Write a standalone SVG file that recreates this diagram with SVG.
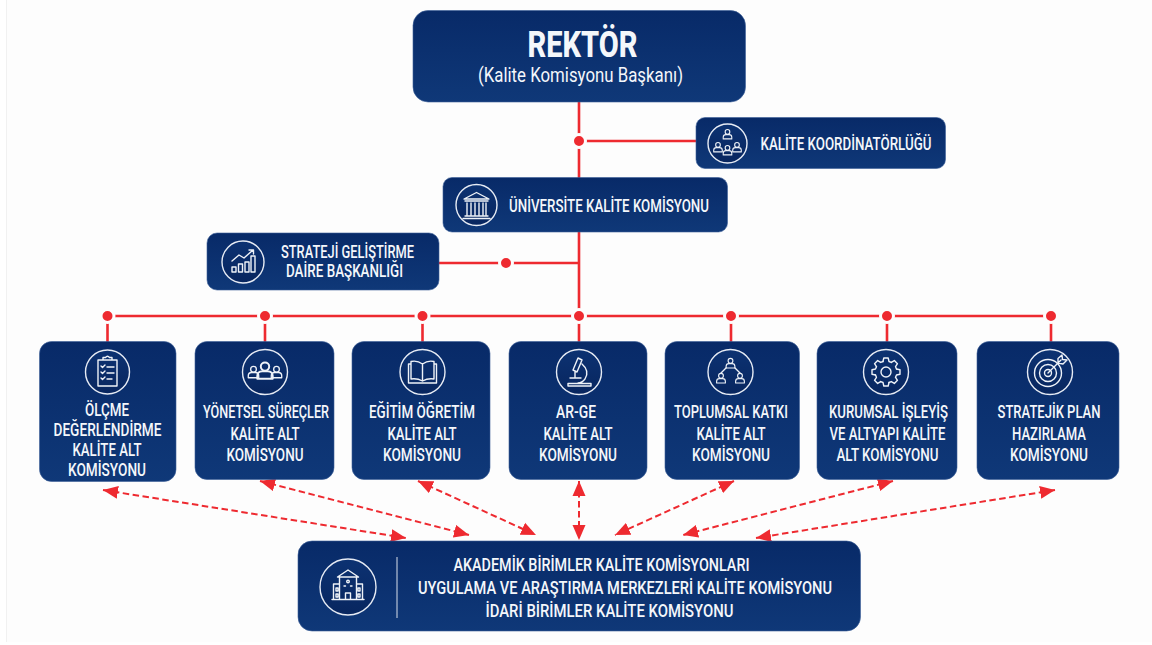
<svg xmlns="http://www.w3.org/2000/svg" width="1152" height="645" viewBox="0 0 1152 645">
<style>
.box{fill:url(#navy);stroke:#3c6098;stroke-width:.6}
text{font-family:"Roboto","Liberation Sans",sans-serif;font-weight:500;fill:#f4f7fb;text-anchor:middle;font-size:17.5px}
.ring{fill:url(#well);stroke:#e6ebf4;stroke-width:1.4}
.ic{fill:none;stroke:#eef2f8;stroke-width:1.4;stroke-linecap:round;stroke-linejoin:round}
.solid{fill:none;stroke:#ee2a30;stroke-width:2.6}
.dot{fill:#ee2a30;stroke:#fdfdfd;stroke-width:3}
.dash{fill:none;stroke:#ee2a30;stroke-width:2;stroke-dasharray:6.500 3.500;marker-start:url(#ah);marker-end:url(#ah)}
</style>
<defs>
<linearGradient id="navy" x1="0" y1="0" x2="0" y2="1"><stop offset="0" stop-color="#082a68"/><stop offset="1" stop-color="#0f3878"/></linearGradient>
<linearGradient id="well" x1="0" y1="0" x2="0" y2="1"><stop offset="0" stop-color="#0c3272"/><stop offset="1" stop-color="#08265f"/></linearGradient>
<marker id="ah" markerUnits="userSpaceOnUse" markerWidth="16" markerHeight="14" viewBox="0 0 16 14" refX="15" refY="7" orient="auto-start-reverse"><path d="M0 .5 L15 7 L0 13.500 Z" fill="#ee2a30"/></marker>
<g id="person"><circle cx="0" cy="-4" r="3" class="ic"/><path class="ic" d="M-5.500 5V3Q-5.500 -.5 -2 -.5H2Q5.500 -.5 5.500 3V5Z"/></g>
<path id="tooth" class="ic" d="M-3 -10.500L-2.200 -14H2.200L3 -10.500L5.300 -9.550"/>
</defs>
<rect width="1152" height="645" fill="#fff"/>
<rect x="6" width="1146" height="642" fill="#fdfdfd"/>
<path d="M6.500 0V642" stroke="#f1f1f1" stroke-width="1" fill="none"/>
<g id="connectors">
<path class="solid" d="M579 102V342M579 141H696M439 263H579M107 316H1051M107.500 316V342M265 316V342M422.500 316V342M731 316V342M887 316V342M1051 316V342"/>
<circle class="dot" cx="579" cy="141" r="6.500"/><circle class="dot" cx="506" cy="263" r="6.500"/>
<circle class="dot" cx="107.500" cy="316" r="6.500"/><circle class="dot" cx="265" cy="316" r="6.500"/><circle class="dot" cx="422.500" cy="316" r="6.500"/><circle class="dot" cx="579" cy="316" r="6.500"/><circle class="dot" cx="731" cy="316" r="6.500"/><circle class="dot" cx="887" cy="316" r="6.500"/><circle class="dot" cx="1051" cy="316" r="6.500"/>
<path class="dash" d="M103 490L406 538"/>
<path class="dash" d="M260 481L469 535"/>
<path class="dash" d="M418 481L536 535"/>
<path class="dash" d="M579 481V540"/>
<path class="dash" d="M734 481L615 535"/>
<path class="dash" d="M893 481L683 535"/>
<path class="dash" d="M1055 490L756 538"/>
</g>
<g id="rektor"><rect class="box" x="413" y="10.500" width="332.500" height="91.500" rx="15"/>
<text x="582.500" y="56.500" style="font-size:37px;font-weight:800" textLength="110" lengthAdjust="spacingAndGlyphs">REKTÖR</text>
<text x="580.500" y="82" style="font-size:21px;font-weight:400" textLength="205" lengthAdjust="spacingAndGlyphs">(Kalite Komisyonu Başkanı)</text></g>
<g id="koordinatorluk"><rect class="box" x="696" y="117.500" width="249.500" height="51" rx="9"/>
<circle class="ring" cx="727.500" cy="143.500" r="19.500"/>
<use href="#person" transform="translate(727.500 135) scale(.78)"/><use href="#person" transform="translate(718 148) scale(.78)"/><use href="#person" transform="translate(737 148) scale(.78)"/><use href="#person" transform="translate(727.500 151) scale(.78)"/>
<text x="846" y="150" textLength="171" lengthAdjust="spacingAndGlyphs">KALİTE KOORDİNATÖRLÜĞÜ</text></g>
<g id="universite"><rect class="box" x="443" y="177.500" width="284.500" height="54.500" rx="9"/>
<circle class="ring" cx="476.500" cy="205" r="20.500"/>
<path class="ic" d="M464 199L476.500 192.500 489 199ZM465 201H488M467 203V215M471 203V215M475 203V215M479 203V215M483 203V215M486 203V215M465 216H488M463 218.500H490"/>
<text x="609" y="212" textLength="200" lengthAdjust="spacingAndGlyphs">ÜNİVERSİTE KALİTE KOMİSYONU</text></g>
<g id="strateji"><rect class="box" x="207" y="233" width="232" height="57" rx="10"/>
<circle class="ring" cx="243" cy="262" r="21"/>
<path class="ic" d="M232 272V267H236V272ZM238.500 272V264H242.500V272ZM245 272V262H249V272ZM251 272V256H255V272ZM232 261L239 255 244 258 253 250M249 250H253.500V254"/>
<text x="347.500" y="258" textLength="133" lengthAdjust="spacingAndGlyphs">STRATEJİ GELİŞTİRME</text>
<text x="344.500" y="277" textLength="117" lengthAdjust="spacingAndGlyphs">DAİRE BAŞKANLIĞI</text></g>
<g id="olcme"><rect class="box" x="39.500" y="341.500" width="136.500" height="140" rx="12"/>
<circle class="ring" cx="107.500" cy="372" r="22"/>
<path class="ic" d="M98 360H117V386H98ZM103 360V357.500H105.500Q107.500 355 109.500 357.500H112V360ZM101 366L102.500 367.500 105 365M101 372L102.500 373.500 105 371M101 378L102.500 379.500 105 377M107 367H114M107 373H114M107 379H112"/>
<text x="107" y="416" textLength="44" lengthAdjust="spacingAndGlyphs">ÖLÇME</text>
<text x="107.500" y="436" textLength="108" lengthAdjust="spacingAndGlyphs">DEĞERLENDİRME</text>
<text x="107" y="456" textLength="69" lengthAdjust="spacingAndGlyphs">KALİTE ALT</text>
<text x="107" y="476" textLength="78" lengthAdjust="spacingAndGlyphs">KOMİSYONU</text></g>
<g id="yonetsel"><rect class="box" x="195" y="341.500" width="139" height="138" rx="12"/>
<circle class="ring" cx="265" cy="372" r="22.500"/>
<use href="#person" transform="translate(253.500 373) scale(.95)"/><use href="#person" transform="translate(276.500 373) scale(.95)"/><use href="#person" transform="translate(265 372) scale(1.400 1.350)"/>
<text x="266" y="418" textLength="126" lengthAdjust="spacingAndGlyphs">YÖNETSEL SÜREÇLER</text>
<text x="265" y="440" textLength="69" lengthAdjust="spacingAndGlyphs">KALİTE ALT</text>
<text x="265" y="461" textLength="77" lengthAdjust="spacingAndGlyphs">KOMİSYONU</text></g>
<g id="egitim"><rect class="box" x="352" y="341.500" width="138" height="138" rx="12"/>
<circle class="ring" cx="422.500" cy="372" r="22.500"/>
<path class="ic" d="M422.500 364Q417 360 411 361.500V379Q417 378 422.500 381Q428 378 434 379V361.500Q428 360 422.500 364ZM422.500 364V381M411 364H408.500V383H436.500V364H434"/>
<text x="422" y="418" textLength="106" lengthAdjust="spacingAndGlyphs">EĞİTİM ÖĞRETİM</text>
<text x="422" y="440" textLength="69" lengthAdjust="spacingAndGlyphs">KALİTE ALT</text>
<text x="422" y="461" textLength="78" lengthAdjust="spacingAndGlyphs">KOMİSYONU</text></g>
<g id="arge"><rect class="box" x="509" y="341.500" width="138" height="138" rx="12"/>
<circle class="ring" cx="579" cy="372" r="22.500"/>
<path class="ic" d="M578 358L582 360 577 372 573 370ZM582 364Q590 371 585 379Q582 383 578 383M570 378H581M568 383.500H591V386H568ZM575 372V378"/>
<text x="576" y="418" textLength="40" lengthAdjust="spacingAndGlyphs">AR-GE</text>
<text x="578" y="440" textLength="69" lengthAdjust="spacingAndGlyphs">KALİTE ALT</text>
<text x="578" y="461" textLength="78" lengthAdjust="spacingAndGlyphs">KOMİSYONU</text></g>
<g id="toplumsal"><rect class="box" x="665" y="341.500" width="134.500" height="138" rx="12"/>
<circle class="ring" cx="730.500" cy="372" r="22.500"/>
<use href="#person" transform="translate(730.500 364) scale(.8)"/><use href="#person" transform="translate(721 379) scale(.8)"/><use href="#person" transform="translate(740 379) scale(.8)"/><path class="ic" d="M721 373L726 368M740 373L735 368"/>
<text x="731" y="418" textLength="114" lengthAdjust="spacingAndGlyphs">TOPLUMSAL KATKI</text>
<text x="731" y="440" textLength="69" lengthAdjust="spacingAndGlyphs">KALİTE ALT</text>
<text x="731" y="461" textLength="78" lengthAdjust="spacingAndGlyphs">KOMİSYONU</text></g>
<g id="kurumsal"><rect class="box" x="817" y="341.500" width="140" height="138" rx="12"/>
<circle class="ring" cx="886" cy="372" r="22.500"/>
<circle class="ic" cx="886" cy="372" r="5"/>
<g transform="translate(886 372)"><use href="#tooth"/><use href="#tooth" transform="rotate(45)"/><use href="#tooth" transform="rotate(90)"/><use href="#tooth" transform="rotate(135)"/><use href="#tooth" transform="rotate(180)"/><use href="#tooth" transform="rotate(225)"/><use href="#tooth" transform="rotate(270)"/><use href="#tooth" transform="rotate(315)"/></g>
<text x="888.500" y="418" textLength="119" lengthAdjust="spacingAndGlyphs">KURUMSAL İŞLEYİŞ</text>
<text x="887.500" y="440" textLength="116" lengthAdjust="spacingAndGlyphs">VE ALTYAPI KALİTE</text>
<text x="887.500" y="461" textLength="102" lengthAdjust="spacingAndGlyphs">ALT KOMİSYONU</text></g>
<g id="stratejik"><rect class="box" x="977" y="341.500" width="142" height="138" rx="12"/>
<circle class="ring" cx="1050" cy="372" r="22.500"/>
<circle class="ic" cx="1048" cy="373" r="13.500"/><circle class="ic" cx="1048" cy="373" r="8.500"/><circle class="ic" cx="1048" cy="373" r="3.500"/>
<path class="ic" d="M1048 373L1061 360M1058 363V358.500L1062 355 1062.500 359.500 1067 360 1063 364Z"/>
<text x="1049" y="418" textLength="103" lengthAdjust="spacingAndGlyphs">STRATEJİK PLAN</text>
<text x="1049" y="440" textLength="74" lengthAdjust="spacingAndGlyphs">HAZIRLAMA</text>
<text x="1049" y="461" textLength="78" lengthAdjust="spacingAndGlyphs">KOMİSYONU</text></g>
<g id="birimler"><rect class="box" x="298" y="541" width="562.500" height="90" rx="14"/>
<circle class="ring" cx="348" cy="587" r="28"/>
<path class="ic" d="M332 599.500H364M333.500 599.500V584H339.500M362.500 599.500V584H356.500M339.500 599.500V577H356.500V599.500M337.500 577L348 570 358.500 577ZM345.500 599.500V593H350.500V599.500M336 588H338V591H336ZM358 588H360V591H358ZM344 586H345.500M350.500 586H352M336 594H338V597H336ZM358 594H360V597H358Z"/>
<circle class="ic" cx="348" cy="581.500" r="1.300"/>
<path d="M397 557V618" stroke="#d8dfea" stroke-width="1" fill="none"/>
<text x="601.500" y="571" textLength="296" lengthAdjust="spacingAndGlyphs">AKADEMİK BİRİMLER KALİTE KOMİSYONLARI</text>
<text x="625" y="594" textLength="414" lengthAdjust="spacingAndGlyphs">UYGULAMA VE ARAŞTIRMA MERKEZLERİ KALİTE KOMİSYONU</text>
<text x="609.500" y="617" textLength="248" lengthAdjust="spacingAndGlyphs">İDARİ BİRİMLER KALİTE KOMİSYONU</text></g>
</svg>
